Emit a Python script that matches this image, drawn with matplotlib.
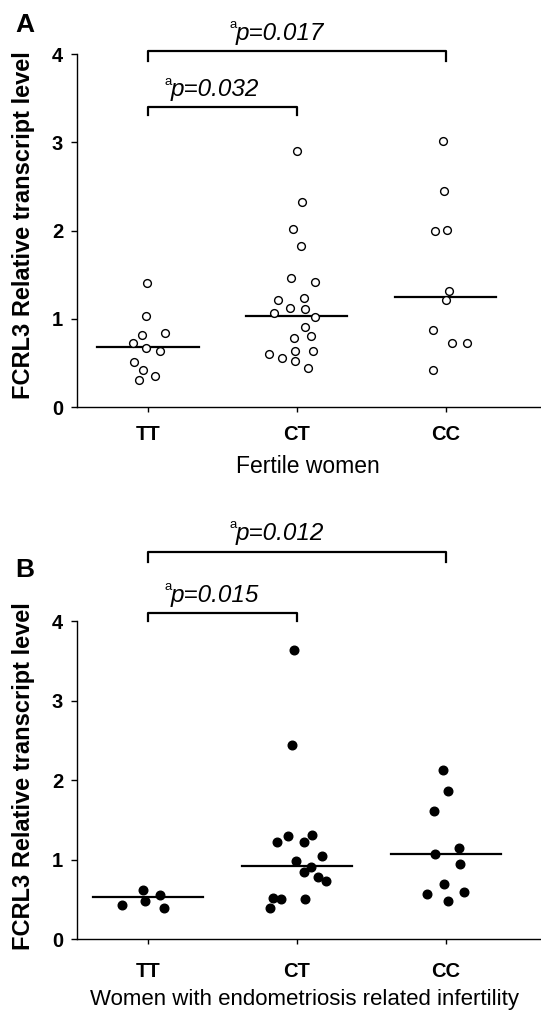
import matplotlib
matplotlib.use("Agg")
import matplotlib.pyplot as plt

plt.rcParams["font.family"] = ["Liberation Sans", "DejaVu Sans"]

groups = ["TT", "CT", "CC"]

# Panel A: fertile women (open circles)
a_tt = [1.40, 1.03, 0.82, 0.835, 0.72, 0.665, 0.635, 0.51, 0.42, 0.35, 0.31]
a_ct = [2.90, 2.32, 2.02, 1.82, 1.46, 1.42, 1.21, 1.24, 1.12, 1.11, 1.07,
        1.02, 0.91, 0.78, 0.81, 0.60, 0.56, 0.635, 0.63, 0.52, 0.44]
a_cc = [3.01, 2.45, 1.99, 2.01, 1.32, 1.21, 0.87, 0.72, 0.73, 0.42]
a_medians = [0.68, 1.03, 1.25]
a_pvals = ["p=0.032", "p=0.017"]

# Panel B: women with endometriosis related infertility (filled circles)
b_tt = [0.43, 0.62, 0.48, 0.56, 0.39]
b_ct = [3.64, 2.44, 1.23, 1.30, 1.23, 1.31, 1.05, 0.99, 0.91, 0.85,
        0.785, 0.735, 0.525, 0.51, 0.51, 0.40]
b_cc = [2.13, 1.87, 1.61, 1.15, 1.07, 0.95, 0.70, 0.57, 0.60, 0.48]
b_medians = [0.54, 0.93, 1.08]
b_pvals = ["p=0.015", "p=0.012"]

# horizontal scatter offsets
a_dx = [
    [-0.005, -0.013, -0.043, 0.112, -0.10, -0.016, 0.083, -0.094, -0.034, 0.049, -0.058],
    [0.004, 0.036, -0.029, 0.029, -0.04, 0.123, -0.13, 0.049, -0.049, 0.056, -0.154,
     0.119, 0.056, -0.022, 0.094, -0.186, -0.098, -0.011, 0.11, -0.011, 0.074],
    [-0.016, -0.009, -0.069, 0.009, 0.02, 0.0, -0.085, 0.04, 0.145, -0.083],
]
b_dx = [
    [-0.172, -0.034, -0.022, 0.081, 0.105],
    [-0.022, -0.031, -0.134, -0.058, 0.045, 0.105, 0.172, -0.007, 0.096, 0.045,
     0.145, 0.199, -0.157, -0.107, 0.054, -0.183],
    [-0.02, 0.018, -0.081, 0.089, -0.072, 0.098, -0.011, -0.123, 0.123, 0.018],
]

fig = plt.figure(figsize=(5.41, 10.16), dpi=100)
ax_a = fig.add_axes([0.1423, 0.5994, 0.8577, 0.3474])
ax_b = fig.add_axes([0.1423, 0.0753, 0.8577, 0.3132])


def panel(ax, data, dxs, medians, filled, half, tickpad):
    for i, (vals, dx) in enumerate(zip(data, dxs)):
        xs = [i + d for d in dx]
        ax.plot(xs, vals, "o", ms=6.2 if filled else 5.6,
                mfc="black" if filled else "white", mec="black",
                mew=1.0, ls="none", clip_on=False, zorder=3)
        ax.plot([i - half, i + half], [medians[i], medians[i]],
                color="black", lw=1.6, zorder=2)
    ax.set_xlim(-0.477, 2.64)
    ax.set_ylim(0, 4)
    ax.set_xticks(range(3))
    ax.set_xticklabels(groups, fontsize=14.5, fontweight="bold")
    ax.set_yticks(range(5))
    ax.set_yticklabels([str(v) for v in range(5)], fontsize=14.5, fontweight="bold")
    ax.tick_params(axis="x", length=3.5, width=1, pad=tickpad)
    ax.tick_params(axis="y", length=4.5, width=1, pad=5.5)
    ax.spines["top"].set_visible(False)
    ax.spines["right"].set_visible(False)
    ax.spines["left"].set_bounds(0, 4)
    for s in ("left", "bottom"):
        ax.spines[s].set_linewidth(1.0)


def bracket(ax, x0, x1, y, drop, text, ty):
    ax.plot([x0, x0, x1, x1], [y - drop, y, y, y - drop], color="black",
            lw=1.6, clip_on=False)
    tx = 0.155 if x1 == 1 else 0.59
    ax.text(tx, ty, text, fontsize=17.5, style="italic", ha="left",
            va="baseline", clip_on=False)
    ax.annotate("a", xy=(tx, ty), xytext=(0.5, 8.5), textcoords="offset points",
                fontsize=9.5, ha="right", va="baseline", annotation_clip=False)


panel(ax_a, [a_tt, a_ct, a_cc], a_dx, a_medians, False, 0.34, 9.5)
bracket(ax_a, 0, 1, 3.40, 0.09, a_pvals[0], 3.52)
bracket(ax_a, 0, 2, 4.03, 0.11, a_pvals[1], 4.16)

panel(ax_b, [b_tt, b_ct, b_cc], b_dx, b_medians, True, 0.37, 12.5)
bracket(ax_b, 0, 1, 4.11, 0.11, b_pvals[0], 4.24)
bracket(ax_b, 0, 2, 4.87, 0.12, b_pvals[1], 5.02)

ylabel = "FCRL3 Relative transcript level"
fig.text(24 / 541, 1 - 225 / 1016, ylabel, rotation=90, fontsize=17,
         fontweight="bold", ha="center", va="center")
fig.text(24 / 541, 1 - 776 / 1016, ylabel, rotation=90, fontsize=17,
         fontweight="bold", ha="center", va="center")

fig.text(308 / 541, 1 - 473 / 1016, "Fertile women", fontsize=16.5,
         ha="center", va="baseline")
fig.text(304 / 541, 1 - 1005 / 1016, "Women with endometriosis related infertility",
         fontsize=16, ha="center", va="baseline")

fig.text(15 / 541, 1 - 32 / 1016, "A", fontsize=19, fontweight="bold",
         ha="left", va="baseline")
fig.text(15 / 541, 1 - 577 / 1016, "B", fontsize=19, fontweight="bold",
         ha="left", va="baseline")

fig.savefig("out.png", dpi=100)
